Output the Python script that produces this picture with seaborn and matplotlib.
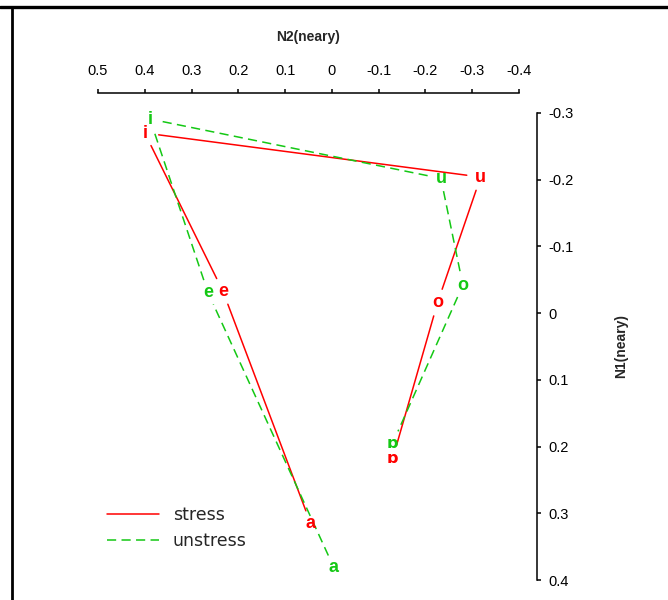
import numpy as np
import pandas as pd
import matplotlib
matplotlib.use("Agg")
import matplotlib.pyplot as plt
from matplotlib.lines import Line2D
import seaborn as sns

# Vowel space, normalised formants (Nearey)
vowels = ["i", "e", "a", "ɒ", "o", "u"]
stress_n2 = [0.400, 0.233, 0.045, -0.130, -0.226, -0.318]
stress_n1 = [-0.270, -0.033, 0.316, 0.218, -0.016, -0.204]
unstress_n2 = [0.389, 0.265, -0.004, -0.130, -0.280, -0.233]
unstress_n1 = [-0.291, -0.031, 0.381, 0.195, -0.042, -0.202]

# polygon outline: a-e-i-u-o-ɒ
path_order = ["a", "e", "i", "u", "o", "ɒ"]

x_ticks = [0.5, 0.4, 0.3, 0.2, 0.1, 0, -0.1, -0.2, -0.3, -0.4]
y_ticks = [-0.3, -0.2, -0.1, 0, 0.1, 0.2, 0.3, 0.4]

colors = {"stress": "#ff0000", "unstress": "#14c814"}

sns.set_style("white")
plt.rcParams["font.family"] = ["Liberation Sans", "DejaVu Sans"]

W, H = 668, 600
fig = plt.figure(figsize=(W / 100, H / 100), dpi=100)
ax = fig.add_axes([98 / W, 1 - 580 / H, 421 / W, 467 / H])
ax.set_xlim(0.5, -0.4)
ax.set_ylim(0.4, -0.3)

series = {
    "stress": (stress_n2, stress_n1),
    "unstress": (unstress_n2, unstress_n1),
}
gaps = {"stress": 14.0, "unstress": 13.0}

# segments trimmed in screen space so they stop short of the vowel symbols
rows = []
to_data = ax.transData.inverted()
for cond, (n2, n1) in series.items():
    pts = {v: (x, y) for v, x, y in zip(vowels, n2, n1)}
    for k in range(len(path_order) - 1):
        p1 = ax.transData.transform(pts[path_order[k]])
        p2 = ax.transData.transform(pts[path_order[k + 1]])
        d = p2 - p1
        u = d / np.hypot(*d)
        g = gaps[cond]
        q1 = to_data.transform(p1 + u * g)
        q2 = to_data.transform(p2 - u * g)
        seg = f"{cond}-{k}"
        rows.append({"cond": cond, "seg": seg, "n2": q1[0], "n1": q1[1]})
        rows.append({"cond": cond, "seg": seg, "n2": q2[0], "n1": q2[1]})
df = pd.DataFrame(rows)

sns.lineplot(
    data=df, x="n2", y="n1", hue="cond", style="cond", units="seg",
    estimator=None, sort=False, palette=colors,
    dashes={"stress": "", "unstress": (6, 3.5)}, linewidth=1.1, ax=ax,
)

for cond, (n2, n1) in series.items():
    for v, x, y in zip(vowels, n2, n1):
        if v == "ɒ":
            fam, size = ["DejaVu Sans"], 11.5
        else:
            fam, size = ["Liberation Sans", "DejaVu Sans"], 13
        ax.text(x, y, v, color=colors[cond], ha="center", va="center",
                fontsize=size, fontweight="bold", family=fam)

ax.set_xlim(0.5, -0.4)
ax.set_ylim(0.4, -0.3)
ax.set_xticks(x_ticks)
ax.set_xticklabels([f"{t:g}" for t in x_ticks])
ax.set_yticks(y_ticks)
ax.set_yticklabels([f"{t:g}" for t in y_ticks])

ax.xaxis.set_ticks_position("top")
ax.xaxis.set_label_position("top")
ax.yaxis.set_ticks_position("right")
ax.yaxis.set_label_position("right")
for s in ["left", "bottom"]:
    ax.spines[s].set_visible(False)
ax.spines["top"].set_position(("outward", 14.4))
ax.spines["right"].set_position(("outward", 13))
for s in ["top", "right"]:
    ax.spines[s].set_color("black")
    ax.spines[s].set_linewidth(1.1)
ax.tick_params(axis="x", direction="out", length=3, width=1.1, color="black",
               labelsize=10.5, pad=8, labelcolor="black")
ax.tick_params(axis="y", direction="out", length=3, width=1.1, color="black",
               labelsize=10.5, pad=5, labelcolor="black")
ax.set_xlabel("N2(neary)", fontsize=10, fontweight="bold", labelpad=16)
ax.set_ylabel("N1(neary)", fontsize=10, fontweight="bold", labelpad=29)

handles, labels = ax.get_legend_handles_labels()
ax.legend(handles, labels, loc="upper left",
          bbox_to_anchor=(107 / W, 1 - 506 / H), bbox_transform=fig.transFigure,
          frameon=False, prop={"family": "DejaVu Sans", "size": 12.5},
          handlelength=3.0, handletextpad=0.8, labelspacing=0.45,
          borderaxespad=0, borderpad=0)

# outer frame edges
fig.add_artist(Line2D([0, 1], [1 - 7 / H, 1 - 7 / H], transform=fig.transFigure,
                      color="black", linewidth=2.4))
fig.add_artist(Line2D([12.5 / W, 12.5 / W], [0, 1 - 7 / H], transform=fig.transFigure,
                      color="black", linewidth=2.0))

fig.savefig("out.png", dpi=100)
